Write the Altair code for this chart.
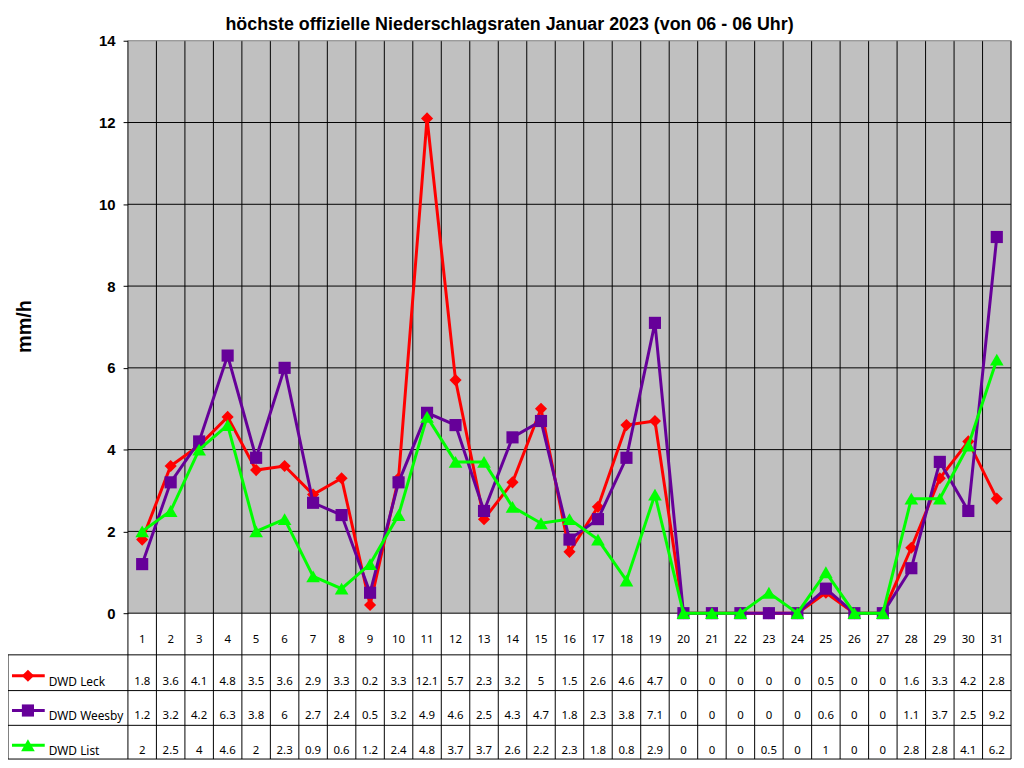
import altair as alt
import pandas as pd

# ---------------- data ----------------
days = list(range(1, 32))
leck = [1.8, 3.6, 4.1, 4.8, 3.5, 3.6, 2.9, 3.3, 0.2, 3.3, 12.1, 5.7, 2.3, 3.2, 5, 1.5,
        2.6, 4.6, 4.7, 0, 0, 0, 0, 0, 0.5, 0, 0, 1.6, 3.3, 4.2, 2.8]
weesby = [1.2, 3.2, 4.2, 6.3, 3.8, 6, 2.7, 2.4, 0.5, 3.2, 4.9, 4.6, 2.5, 4.3, 4.7, 1.8,
          2.3, 3.8, 7.1, 0, 0, 0, 0, 0, 0.6, 0, 0, 1.1, 3.7, 2.5, 9.2]
list_ = [2, 2.5, 4, 4.6, 2, 2.3, 0.9, 0.6, 1.2, 2.4, 4.8, 3.7, 3.7, 2.6, 2.2, 2.3,
         1.8, 0.8, 2.9, 0, 0, 0, 0.5, 0, 1, 0, 0, 2.8, 2.8, 4.1, 6.2]
series_names = ["DWD Leck", "DWD Weesby", "DWD List"]
series_values = [leck, weesby, list_]
y_ticks = [0, 2, 4, 6, 8, 10, 12, 14]
title_text = "höchste offizielle Niederschlagsraten Januar 2023 (von 06 - 06 Uhr)"
y_title = "mm/h"

# ---------------- styles / layout (scale units) ----------------
colors = ["#FF0000", "#660099", "#00FF00"]
shapes = ["diamond", "square", "triangle-up"]
sizes = [150, 150, 190]
PX = 41.21  # pixels per y unit
X_MIN, X_MAX = -3.71, 31.5
Y_MIN, Y_MAX = -3.567, 14 + 30 / PX
TITLE_Y = 14 + 11 / PX
ROW_DAY = -0.649
ROW_TEXT = [-1.676, -2.525, -3.374]
ROW_KEY = [-1.53, -2.38, -3.23]
ROW_LINES = [-1.019, -1.893, -2.743, -3.567]
KEY_X0, KEY_X1, KEY_XM, LABEL_X = -3.57, -2.42, -3.01, -2.28
W, H = 1011, 754
TABLE_FONT = "Noto Sans"

xs = alt.Scale(domain=[X_MIN, X_MAX], nice=False, zero=False)
ys = alt.Scale(domain=[Y_MIN, Y_MAX], nice=False, zero=False)

yaxis = alt.Axis(values=y_ticks, grid=False, domain=False, tickSize=5, tickColor="black",
                 tickWidth=1, labelFont="Liberation Sans", labelFontSize=15,
                 labelFontWeight="bold", labelColor="black", labelPadding=8, offset=-121,
                 title=y_title, titleFont="Liberation Sans", titleFontSize=20,
                 titleFontWeight="bold", titleColor="black", titleAngle=270,
                 titleX=-104, titleY=317.5, titleAlign="center", titleBaseline="middle")


def X(f="x"):
    return alt.X(f"{f}:Q", scale=xs, axis=None)


def Y(f="y"):
    return alt.Y(f"{f}:Q", scale=ys, axis=yaxis)


bg = alt.Chart(pd.DataFrame({"x": [0.5], "x2": [31.5], "y": [0], "y2": [14]})).mark_rect(
    fill="#C0C0C0", stroke=None).encode(x=X(), x2="x2:Q", y=Y(), y2="y2:Q")

hgrid = alt.Chart(pd.DataFrame({"y": y_ticks[:-1], "x": 0.5, "x2": 31.5})).mark_rule(
    color="black", strokeWidth=1).encode(x=X(), x2="x2:Q", y=Y())
htop = alt.Chart(pd.DataFrame({"y": [14], "x": 0.5, "x2": 31.5})).mark_rule(
    color="#808080", strokeWidth=1).encode(x=X(), x2="x2:Q", y=Y())

bounds = [d - 0.5 for d in days] + [days[-1] + 0.5]
vgrid = alt.Chart(pd.DataFrame({"x": bounds, "y": Y_MIN, "y2": 14})).mark_rule(
    color="black", strokeWidth=1).encode(x=X(), y=Y(), y2="y2:Q")

tlines = alt.Chart(pd.DataFrame({"y": ROW_LINES, "x": X_MIN, "x2": X_MAX})).mark_rule(
    color="black", strokeWidth=1).encode(x=X(), x2="x2:Q", y=Y())
tleft = alt.Chart(pd.DataFrame({"x": [X_MIN], "y": [ROW_LINES[0]], "y2": [ROW_LINES[-1]]})).mark_rule(
    color="black", strokeWidth=1).encode(x=X(), y=Y(), y2="y2:Q")

title = alt.Chart(pd.DataFrame({"x": [(X_MIN + X_MAX) / 2], "y": [TITLE_Y], "t": [title_text]})).mark_text(
    font="Liberation Sans", fontSize=18, fontWeight="bold", color="black",
    align="center", baseline="alphabetic").encode(x=X(), y=Y(), text="t:N")

layers = [bg, hgrid, vgrid, htop, tlines, tleft, title]

for name, vals, c, s, sz in zip(series_names, series_values, colors, shapes, sizes):
    df = pd.DataFrame({"x": days, "y": vals})
    layers.append(alt.Chart(df).mark_line(color=c, strokeWidth=3).encode(x=X(), y=Y()))
    layers.append(alt.Chart(df).mark_point(shape=s, filled=True, color=c, size=sz, opacity=1)
                  .encode(x=X(), y=Y()))

day_df = pd.DataFrame({"x": days, "y": ROW_DAY, "t": [str(d) for d in days]})
layers.append(alt.Chart(day_df).mark_text(font=TABLE_FONT, fontSize=11.5, color="black",
                                          baseline="middle").encode(x=X(), y=Y(), text="t:N"))


def fmt(v):
    return str(int(v)) if float(v).is_integer() else str(v)


for i, (name, vals, c, s, sz) in enumerate(zip(series_names, series_values, colors, shapes, sizes)):
    tdf = pd.DataFrame({"x": days, "y": ROW_TEXT[i], "t": [fmt(v) for v in vals]})
    layers.append(alt.Chart(tdf).mark_text(font=TABLE_FONT, fontSize=11.5, color="black",
                                           baseline="middle").encode(x=X(), y=Y(), text="t:N"))
    kdf = pd.DataFrame({"x": [KEY_X0], "x2": [KEY_X1], "y": [ROW_KEY[i]]})
    layers.append(alt.Chart(kdf).mark_rule(color=c, strokeWidth=3).encode(x=X(), x2="x2:Q", y=Y()))
    mdf = pd.DataFrame({"x": [KEY_XM], "y": [ROW_KEY[i]]})
    layers.append(alt.Chart(mdf).mark_point(shape=s, filled=True, color=c, size=sz, opacity=1)
                  .encode(x=X(), y=Y()))
    ldf = pd.DataFrame({"x": [LABEL_X], "y": [ROW_TEXT[i]], "t": [name]})
    layers.append(alt.Chart(ldf).mark_text(font=TABLE_FONT, fontSize=12, color="black",
                                           align="left", baseline="middle")
                  .encode(x=X(), y=Y(), text="t:N"))

chart = alt.layer(*layers).properties(
    width=W, height=H,
    autosize=alt.AutoSizeParams(type="none"),
    padding={"left": 0, "top": 0, "right": 5, "bottom": 0},
    background="white",
).configure_view(stroke=None)

chart.save("out.html", embed_options={"renderer": "svg", "actions": False})
